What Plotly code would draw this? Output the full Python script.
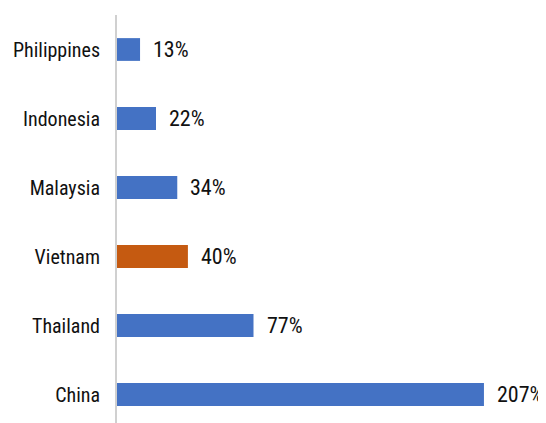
import plotly.graph_objects as go

countries = ["Philippines", "Indonesia", "Malaysia", "Vietnam", "Thailand", "China"]
values = [13, 22, 34, 40, 77, 207]
highlight = "Vietnam"

BLUE = "#4472C4"
ORANGE = "#C55A11"
colors = [ORANGE if c == highlight else BLUE for c in countries]
FONT = "Liberation Sans Narrow, Arial Narrow, Roboto Condensed, Liberation Sans, sans-serif"

fig = go.Figure(go.Bar(
    x=values, y=countries, orientation="h",
    marker=dict(color=colors, line=dict(width=0)),
    hoverinfo="skip",
))

for c, v in zip(countries, values):
    fig.add_annotation(x=v, y=c, text=f"{v}%", showarrow=False,
                       xanchor="left", xshift=11,
                       font=dict(family=FONT, size=22, color="#111111"))

fig.update_layout(
    width=538, height=415,
    margin=dict(l=109, r=0, t=7, b=0, autoexpand=False),
    paper_bgcolor="white", plot_bgcolor="white",
    bargap=0.67, showlegend=False,
    font=dict(family=FONT, size=20, color="#111111"),
)
fig.update_xaxes(range=[0, 242], visible=False, showgrid=False, zeroline=False,
                 automargin=False)
fig.update_yaxes(
    categoryorder="array", categoryarray=countries,
    range=[5.413, -0.5], automargin=False,
    showline=True, linecolor="#D0D0D0", linewidth=2,
    ticks="", ticklabelstandoff=11, showgrid=False, zeroline=False,
    tickfont=dict(family=FONT, size=20, color="#111111"),
)

fig.write_html("out.html")
